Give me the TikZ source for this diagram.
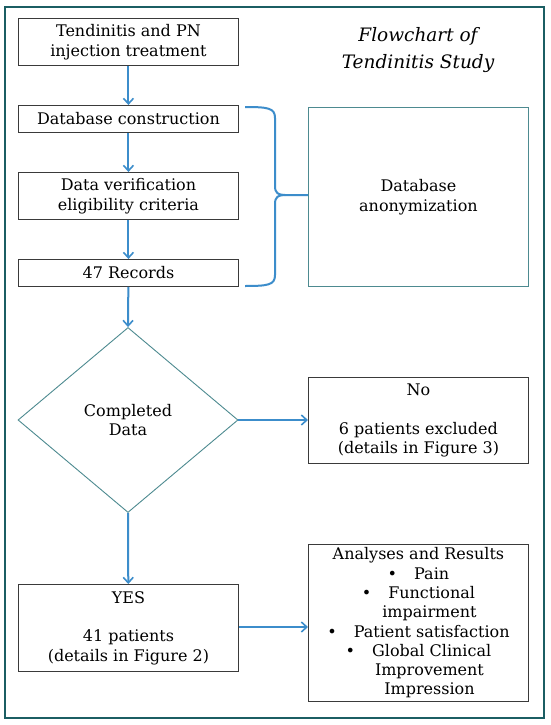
\documentclass[tikz,border=0pt]{standalone}
\usepackage{fontspec}
\setmainfont{DejaVu Serif}
\usetikzlibrary{shapes.geometric,arrows.meta}
\definecolor{frame}{HTML}{1B5E63}
\definecolor{arr}{HTML}{3C8DCB}
\definecolor{teal2}{HTML}{4D8A90}
\definecolor{boxc}{HTML}{3A3A3A}
\newcommand{\bl}{\textbullet\hspace{17pt}}
\begin{document}
\begin{tikzpicture}[x=1pt,y=-1pt,
  every node/.style={font=\fontsize{16}{19.5}\selectfont, align=center, inner sep=0pt},
  stepbox/.style={draw=boxc, line width=0.9pt, minimum width=220pt, anchor=north west},
  conn/.style={draw=arr, line width=2pt, -{Straight Barb[length=5.5pt,width=10pt,line width=1.6pt]}}
]
\useasboundingbox (0,0) rectangle (550,725);
\fill[white] (0,0) rectangle (550,725);
\draw[frame, line width=2.4pt] (5,7) rectangle (544,718);

\node[stepbox, minimum height=47pt] (b1) at (18,18) {Tendinitis and PN\\injection treatment};
\node[stepbox, minimum height=27pt] (b2) at (18,105) {Database construction};
\node[stepbox, minimum height=47pt] (b3) at (18,172) {Data verification\\eligibility criteria};
\node[stepbox, minimum height=27pt] (b4) at (18,259) {47 Records};

\node[draw=teal2, line width=0.9pt, diamond, minimum width=220pt, minimum height=185pt, inner sep=0pt] (d) at (128,420) {Completed\\Data};

\node[stepbox, minimum height=87pt, align=center] (yes) at (18,584) {YES\\[19pt]41 patients\\(details in Figure 2)};
\node[stepbox, minimum height=86pt] (no) at (308,377) {No\\[19pt]6 patients excluded\\(details in Figure 3)};
\node[stepbox, minimum height=157pt, font=\fontsize{16}{19.3}\selectfont] (res) at (308,544) {Analyses and Results\\
  \bl Pain\\
  \bl Functional\\
  \hspace{22pt}impairment\\
  \bl Patient satisfaction\\
  \bl Global Clinical\\
  \hspace{22pt}Improvement\\
  \hspace{22pt}Impression};

\node[draw=teal2, line width=0.9pt, minimum width=220pt, minimum height=179pt, anchor=north west] (anon) at (308,107) {Database\\anonymization};

\node[font=\fontsize{18.5}{27}\selectfont\itshape] (title) at (418,50) {Flowchart of\\Tendinitis Study};

\draw[conn] (b1) -- (b2);
\draw[conn] (b2) -- (b3);
\draw[conn] (b3) -- (b4);
\draw[conn] (b4) -- (d.north);
\draw[conn] (d.south) -- (yes);
\draw[conn] (d.east) -- (d.east -| no.west);
\draw[conn] (yes.east |- 627,627) -- (no.west |- 627,627);

\coordinate (bt) at (245,107);
\coordinate (bb) at (245,286);
\coordinate (tip) at (anon.west |- 0,195);
\draw[arr, line width=2pt] (bt) .. controls (268,107) and (275,108) .. (275,118)
  -- (275,186) .. controls (275,193) and (278,195) .. (285,195) -- (tip);
\draw[arr, line width=2pt] (bb) .. controls (268,286) and (275,285) .. (275,275)
  -- (275,204) .. controls (275,197) and (278,195) .. (285,195);
\end{tikzpicture}
\end{document}
